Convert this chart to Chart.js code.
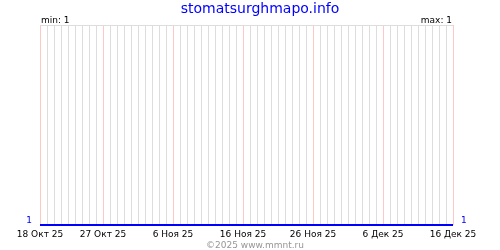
<!DOCTYPE html>
<html>
<head>
<meta charset="utf-8">
<script src="https://cdn.jsdelivr.net/npm/chart.js@4"></script>
<style>
  html, body { margin: 0; padding: 0; background: #fff; }
  #wrap { width: 500px; height: 250px; }
</style>
</head>
<body>
<div id="wrap"><canvas id="visitsChart" width="500" height="250"></canvas></div>
<script>
// Chart data
const siteName = 'stomatsurghmapo.info';
const tickLabels = ['18 Окт 25', '27 Окт 25', '6 Ноя 25', '16 Ноя 25', '26 Ноя 25', '6 Дек 25', '16 Дек 25'];
const tickDays = [0, 9, 19, 29, 39, 49, 59];
const visits = [
    1, 1, 1, 1, 1, 1, 1, 1, 1, 1,
    1, 1, 1, 1, 1, 1, 1, 1, 1, 1,
    1, 1, 1, 1, 1, 1, 1, 1, 1, 1,
    1, 1, 1, 1, 1, 1, 1, 1, 1, 1,
    1, 1, 1, 1, 1, 1, 1, 1, 1, 1,
    1, 1, 1, 1, 1, 1, 1, 1, 1, 1
];
const minLabel = 'min: 1';
const maxLabel = 'max: 1';
const copyright = '©2025 www.mmnt.ru';

const SMALL_FONT = { family: 'DejaVu Sans', size: 9 };

// texts around the plot
const textPlugin = {
    id: 'texts',
    afterDraw(chart) {
        const ctx = chart.ctx;
        const area = chart.chartArea;
        ctx.save();
        ctx.textBaseline = 'alphabetic';

        ctx.font = '14px "DejaVu Sans"';
        ctx.fillStyle = '#0000ff';
        ctx.textAlign = 'center';
        ctx.fillText(siteName, 260, 13);

        ctx.font = '9px "DejaVu Sans"';
        ctx.fillStyle = '#000';
        ctx.textAlign = 'left';
        ctx.fillText(minLabel, area.left + 1, 23);
        ctx.textAlign = 'right';
        ctx.fillText(maxLabel, area.right - 1, 23);

        ctx.fillStyle = '#969696';
        ctx.textAlign = 'center';
        ctx.fillText(copyright, 255, 248);
        ctx.restore();
    }
};

function dayTicks(scale) {
    const ticks = [];
    for (let d = 0; d <= 59; d++) ticks.push({ value: d });
    scale.ticks = ticks;
}

function valueAxis(position, width, showGrid) {
    return {
        type: 'linear',
        position: position,
        min: 1,
        max: 2,
        afterBuildTicks: (scale) => { scale.ticks = [{ value: 1 }, { value: 2 }]; },
        afterFit: (scale) => { scale.width = width; },
        border: { display: false },
        grid: {
            display: showGrid,
            drawTicks: false,
            color: (c) => c.tick && c.tick.value === 2 ? '#dddddd' : 'rgba(0,0,0,0)'
        },
        ticks: {
            color: '#0000ff',
            font: SMALL_FONT,
            padding: 8,
            align: 'end',
            callback: (v) => v === 1 ? '1' : ''
        }
    };
}

new Chart(document.getElementById('visitsChart'), {
    type: 'line',
    data: {
        datasets: [{
            data: visits.map((v, i) => ({ x: i, y: v })),
            borderColor: '#0000ff',
            borderWidth: 2,
            pointRadius: 0,
            tension: 0,
            clip: false,
            yAxisID: 'y'
        }]
    },
    options: {
        responsive: false,
        animation: false,
        layout: { padding: { top: 25, left: 0, right: 0, bottom: 0 } },
        plugins: {
            legend: { display: false },
            tooltip: { enabled: false },
            title: { display: false }
        },
        scales: {
            x: {
                type: 'linear',
                min: 0,
                max: 59,
                afterBuildTicks: dayTicks,
                afterFit: (scale) => { scale.height = 25; },
                border: { display: false },
                grid: {
                    drawTicks: false,
                    color: (c) => tickDays.includes(c.tick.value) ? '#ffc8c8' : '#dddddd'
                },
                ticks: {
                    autoSkip: false,
                    maxRotation: 0,
                    color: '#000',
                    font: SMALL_FONT,
                    padding: 4,
                    callback: (v) => {
                        const idx = tickDays.indexOf(v);
                        return idx >= 0 ? tickLabels[idx] : '';
                    }
                }
            },
            y: valueAxis('left', 40, true),
            y2: valueAxis('right', 47, false)
        }
    },
    plugins: [textPlugin]
});
</script>
</body>
</html>
